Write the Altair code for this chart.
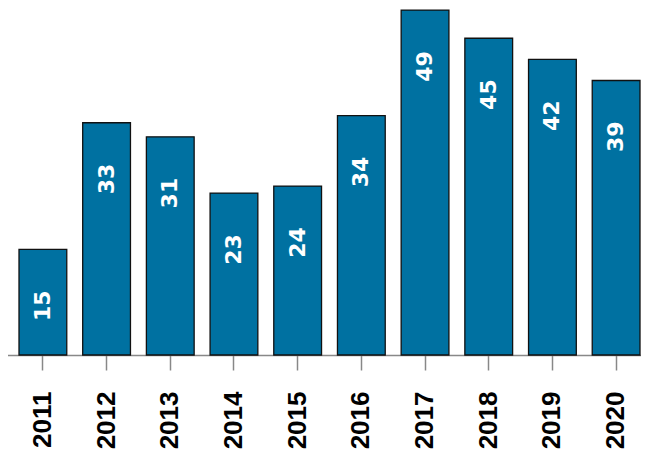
import altair as alt
import pandas as pd

years = ["2011", "2012", "2013", "2014", "2015", "2016", "2017", "2018", "2019", "2020"]
values = [15, 33, 31, 23, 24, 34, 49, 45, 42, 39]

df = pd.DataFrame({"year": years, "value": values})

x = alt.X(
    "year:N",
    sort=years,
    title=None,
    scale=alt.Scale(paddingInner=0.25, paddingOuter=0.1884, range=[-1, 644]),
    axis=alt.Axis(
        labelAngle=270,
        labelAlign="right",
        labelBaseline="middle",
        labelFont="Liberation Sans",
        labelFontWeight="bold",
        labelFontSize=26,
        labelColor="#000000",
        labelPadding=21,
        tickSize=15,
        tickColor="#888888",
        domainColor="#888888",
        domainWidth=1.5,
        tickWidth=1.5,
        labelBound=False,
        labelOverlap=False,
    ),
)
y = alt.Y("value:Q", scale=alt.Scale(domain=[0, 49.3], nice=False), axis=None)

bars = alt.Chart(df).mark_bar(
    color="#0071a1", stroke="#111111", strokeWidth=1.3
).encode(x=x, y=y)

labels = alt.Chart(df).mark_text(
    angle=270,
    align="right",
    baseline="middle",
    dx=-41,
    font="DejaVu Sans",
    fontWeight="bold",
    fontSize=22,
    color="white",
).encode(x=x, y=y, text="value:Q")

chart = (bars + labels).properties(
    width=633,
    height=347,
    padding={"left": 0, "right": 0, "top": 0, "bottom": 95},
    autosize=alt.AutoSizeParams(type="none"),
).configure_view(stroke=None)

chart.save("out.html", embed_options={"renderer": "svg", "actions": False})
